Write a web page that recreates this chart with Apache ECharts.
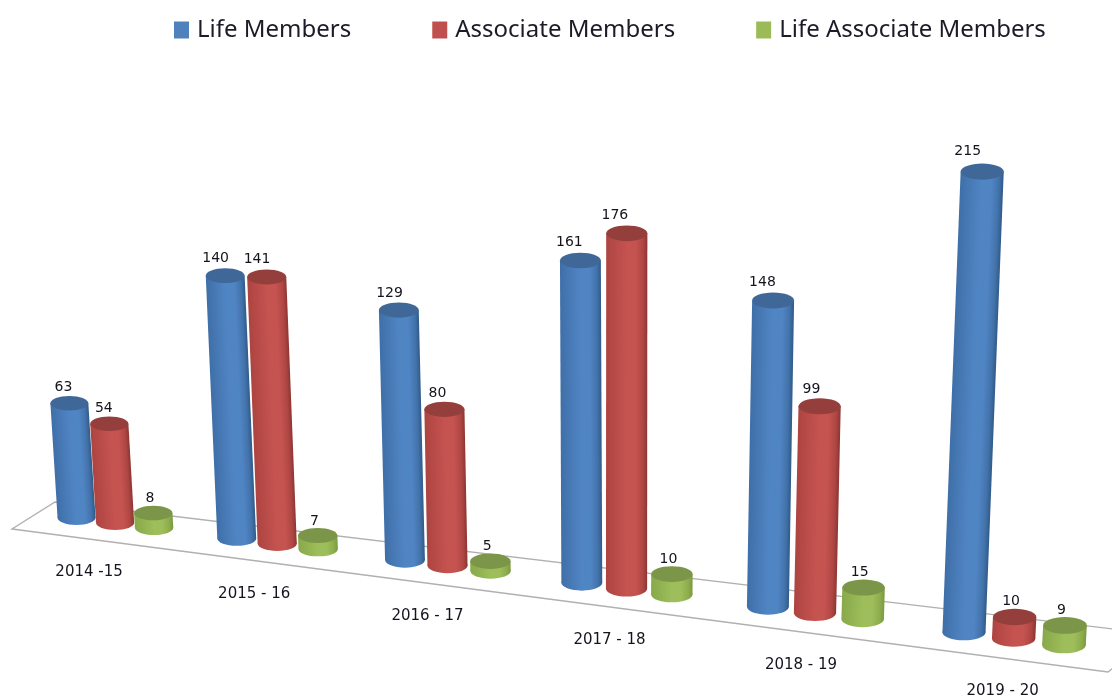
<!DOCTYPE html>
<html><head><meta charset="utf-8">
<style>html,body{margin:0;padding:0;background:#fff}#c{width:1112px;height:698px}</style>
<script src="https://cdn.jsdelivr.net/npm/echarts@6/dist/echarts.min.js"></script>
</head><body><div id="c"></div>
<script>
const categories = ['2014 -15','2015 - 16','2016 - 17','2017 - 18','2018 - 19','2019 - 20'];
const lifeMembers = [63,140,129,161,148,215];
const associateMembers = [54,141,80,176,99,10];
const lifeAssociateMembers = [8,7,5,10,15,9];

const FONT = '"Noto Sans", sans-serif';
const NUMFONT = '"DejaVu Sans", sans-serif';
const PERSP = 0.0237, SLOPE = 0.13, SERIES_STEP = 0.245;
const styles = [
  {c:'#4f81bd', l:'#3f6fa8', m:'#5085c4', e:'#4272aa', r:'#305a88', t:'#3f6898'},
  {c:'#c0504d', l:'#ad4441', m:'#c55350', e:'#ae4643', r:'#8c3532', t:'#953f3d'},
  {c:'#9bbb59', l:'#88a84a', m:'#9dbe5a', e:'#8dac4c', r:'#7a9a40', t:'#7b9549'}
];
const wid = X => 37.5 + 0.0058 * X;
const semi = X => 0.19 * wid(X);
function project(api, u, v) {
  const p = api.coord([u, 0]);
  const X = p[0] / (1 - PERSP * u);
  const edge = p[1] + SLOPE * X;
  const Yb = edge - semi(X);
  const h = api.size([0, v])[1] * (1 + 0.000204 * X);
  const lean = (X - 620) * 0.000115 * h;
  return {X, Yb, h, topX: X + lean, topY: Yb - h};
}
function barItem(s) {
  return function (params, api) {
    const g = api.value(0), v = api.value(1);
    const P = project(api, g + s * SERIES_STEP, v);
    const w = wid(P.X), b = semi(P.X), st = styles[s];
    const dx = P.topX - P.X, len = Math.hypot(dx, P.h) || 1;
    const nx = P.h / len, ny = dx / len;
    const grad = {type:'linear', global:true,
      x:P.X - nx*w/2, y:P.Yb - ny*w/2, x2:P.X + nx*w/2, y2:P.Yb + ny*w/2,
      colorStops:[
      {offset:0, color:st.l},{offset:0.5, color:st.m},{offset:0.72, color:st.m},
      {offset:0.9, color:st.e},{offset:1, color:st.r}]};
    return {type:'group', children:[
      {type:'ellipse', shape:{cx:P.X, cy:P.Yb, rx:w/2, ry:b}, style:{fill:grad}},
      {type:'polygon', shape:{points:[[P.topX-w/2,P.topY],[P.topX+w/2,P.topY],[P.X+w/2,P.Yb],[P.X-w/2,P.Yb]]}, style:{fill:grad}},
      {type:'ellipse', shape:{cx:P.topX, cy:P.topY, rx:w/2, ry:b}, style:{fill:st.t}},
      {type:'text', style:{x:P.topX - 3 - 0.025*P.h, y:P.topY - b - 7 - 0.01*P.h, text:String(v),
        fill:'#14141e', font:'14px '+NUMFONT, align:'center', verticalAlign:'middle'}}
    ]};
  };
}
function planeItem(params, api) {
  const g = api.value(0);
  const red = project(api, g + SERIES_STEP, 0);
  const lx = red.X - 26 + 3 * g;
  const frontY = X => 529 + 0.1305 * (X - 12);
  const backY = X => 502 + 0.12 * (X - 55);
  const children = [{type:'text', style:{x:lx, y:frontY(lx)+33, text:categories[g],
    fill:'#14141e', font:'15px '+NUMFONT, align:'center', verticalAlign:'middle'}}];
  if (g === 0) {
    children.unshift({type:'polygon', shape:{points:[[12,frontY(12)],[1108,frontY(1108)],[1157,backY(1157)],[55,backY(55)]]},
      style:{fill:'none', stroke:'#b0b0b0', lineWidth:1.4}});
  }
  return {type:'group', children};
}
const toData = a => a.map((v,i)=>[i,v]);
const seriesDefs = [['Life Members',lifeMembers],['Associate Members',associateMembers],['Life Associate Members',lifeAssociateMembers]];
const chart = echarts.init(document.getElementById('c'));
chart.setOption({
  animation:false,
  backgroundColor:'#fff',
  legend:{left:169, top:13, itemGap:81, itemWidth:15, itemHeight:17,
    data:seriesDefs.map(d=>({name:d[0], icon:'rect'})),
    textStyle:{fontFamily:FONT, fontSize:24, color:'#1c1c28', padding:[0,0,0,3]}},
  grid:{left:76.5, width:773.25, top:67.5, height:447.5},
  xAxis:{type:'value', min:0, max:5, show:false},
  yAxis:{type:'value', min:0, max:250, show:false},
  series:[
    {type:'custom', name:'plane', z:1, clip:false, data:toData(categories.map(()=>0)), renderItem:planeItem, silent:true},
    ...seriesDefs.map((d,s)=>({type:'custom', name:d[0], z:2+s, clip:false, itemStyle:{color:styles[s].c},
      data:toData(d[1]), renderItem:barItem(s), encode:{x:0,y:1}}))
  ]
});
</script></body></html>
